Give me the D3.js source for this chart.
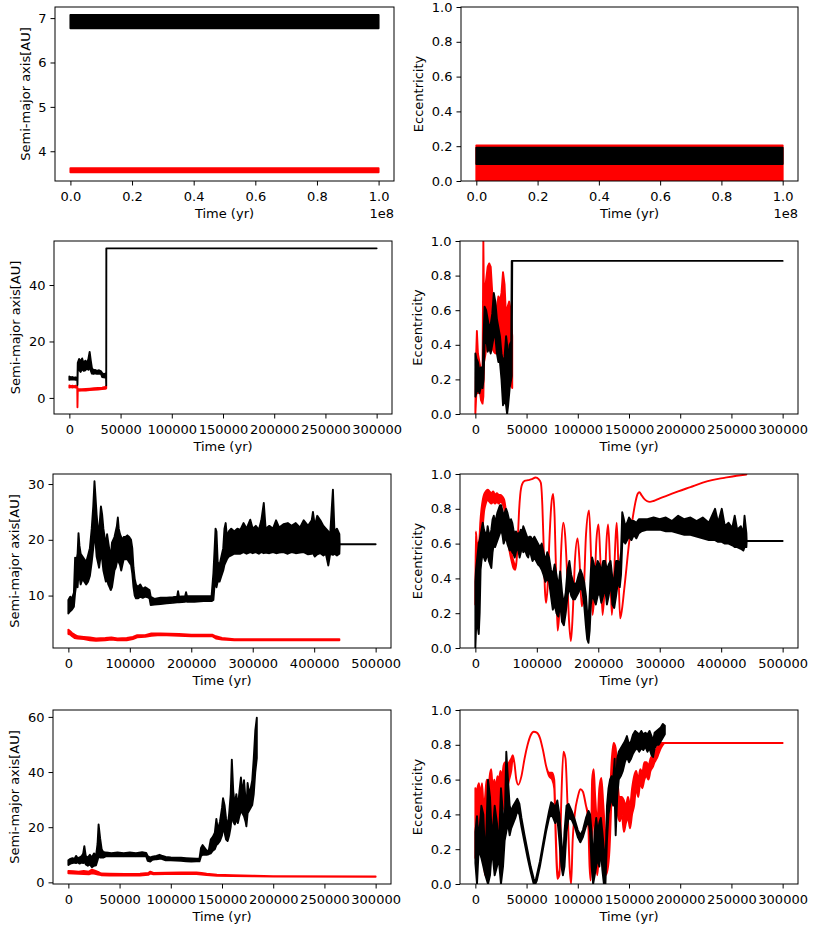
<!DOCTYPE html>
<html>
<head>
<meta charset="utf-8">
<script src="https://cdn.jsdelivr.net/npm/d3@7"></script>
<style>
  body { margin: 0; background: #fff; }
  svg { display: block; font-family: "DejaVu Sans", sans-serif; }
</style>
</head>
<body>
<svg width="822" height="928"></svg>
<script>
// each row: [time (yr), low, high] - envelope of the noisy curve

// run 1 (top row), 1e8 yr
const run1SemiRed   = [[0, 3.525, 3.618], [1e8, 3.525, 3.618]];
const run1SemiBlack = [[0, 6.77, 7.07], [1e8, 6.77, 7.07]];
const run1EccRed    = [[0, 0.0, 0.205], [1e8, 0.0, 0.205]];
const run1EccBlack  = [[0, 0.098, 0.191], [1e8, 0.098, 0.191]];

// run 2
const run2SemiRed = [
  [0, 3.7, 4.4], [1500, 3.8, 4.2], [3000, 3.7, 4.3], [4500, 3.8, 4.2], [6000, 3.7, 4.3],
  [7700, 3.7, 4.1], [7900, -3.3, 3.6], [8200, 2.5, 3.1], [12000, 2.6, 3.1], [16000, 2.6, 3.2],
  [20000, 2.8, 3.3], [24000, 2.9, 3.4], [28000, 3.0, 3.5], [32000, 3.1, 3.6], [35000, 3.2, 3.9],
  [36000, 3.4, 4.3]
];
const run2SemiBlack = [
  [0, 6.4, 7.6], [1500, 6.6, 7.3], [3000, 6.5, 7.4], [4500, 6.6, 7.2], [6000, 6.4, 7.3],
  [7700, 6.5, 7.1], [7900, 4.6, 7.0], [8200, 9.6, 12.4], [9500, 10.0, 13.8], [11000, 9.2, 13.0],
  [12500, 10.3, 14.0], [14000, 9.6, 12.2], [15500, 9.8, 13.2], [17000, 10.4, 12.6], [18500, 10.0, 13.6],
  [19800, 10.8, 16.3], [21000, 9.6, 13.0], [22000, 8.6, 10.6], [23500, 8.5, 9.8], [25000, 8.7, 9.9],
  [27000, 8.5, 9.6], [29000, 8.6, 9.8], [31000, 8.4, 9.4], [32000, 7.4, 8.8], [33500, 7.3, 8.4],
  [35000, 7.2, 8.6], [35800, 7.4, 8.9], [36000, 4.5, 8.0], [36100, 53, 53], [300000, 53, 53]
];
const run2EccRed = [
  [0, 0.0, 0.05], [800, 0.1, 0.35], [1500, 0.2, 0.48], [2500, 0.12, 0.35], [4000, 0.15, 0.3],
  [5500, 0.08, 0.25], [7000, 0.06, 0.22], [7800, 0.1, 1.0], [8500, 0.3, 0.6], [10000, 0.35, 0.75],
  [12000, 0.45, 0.85], [13500, 0.5, 0.87], [15000, 0.45, 0.85], [16500, 0.38, 0.7], [18000, 0.36, 0.6],
  [19500, 0.35, 0.55], [21000, 0.4, 0.62], [22500, 0.45, 0.68], [24000, 0.4, 0.65], [25500, 0.3, 0.7],
  [27000, 0.25, 0.82], [28500, 0.2, 0.75], [30000, 0.1, 0.55], [31500, 0.15, 0.62], [33000, 0.2, 0.65],
  [34500, 0.18, 0.6], [36000, 0.15, 0.45]
];
const run2EccBlack = [
  [0, 0.1, 0.35], [1000, 0.12, 0.32], [2500, 0.15, 0.3], [4000, 0.12, 0.25], [5500, 0.16, 0.27],
  [7000, 0.15, 0.22], [8000, 0.2, 0.45], [9000, 0.4, 0.62], [10500, 0.45, 0.6], [12000, 0.36, 0.55],
  [13500, 0.38, 0.5], [15000, 0.35, 0.52], [16500, 0.4, 0.58], [18000, 0.45, 0.7], [19500, 0.45, 0.65],
  [21000, 0.35, 0.55], [22500, 0.3, 0.5], [24000, 0.3, 0.45], [25500, 0.2, 0.35], [27000, 0.05, 0.3],
  [28500, 0.08, 0.33], [30000, 0.05, 0.45], [31000, 0.0, 0.4], [32000, 0.05, 0.3], [33500, 0.15, 0.4],
  [35000, 0.2, 0.42], [35500, 0.22, 0.885], [36000, 0.885, 0.885], [300000, 0.885, 0.885]
];

// run 3
const run3SemiRed = [
  [0, 3.1, 3.9], [3000, 3.0, 3.6], [6000, 2.7, 3.3], [10000, 2.4, 3.0], [15000, 2.3, 2.7],
  [25000, 2.2, 2.6], [35000, 2.0, 2.5], [45000, 1.9, 2.3], [60000, 2.0, 2.4], [70000, 2.1, 2.5],
  [80000, 2.0, 2.3], [95000, 2.0, 2.4], [105000, 2.2, 2.6], [112000, 2.5, 2.9], [125000, 2.6, 2.9],
  [135000, 2.8, 3.2], [150000, 2.9, 3.2], [180000, 2.8, 3.1], [200000, 2.7, 3.0], [234000, 2.7, 3.0],
  [240000, 2.3, 2.7], [250000, 2.1, 2.4], [270000, 2.0, 2.2], [300000, 2.0, 2.2], [441000, 2.0, 2.2]
];
const run3SemiBlack = [
  [0, 6.8, 9.2], [3000, 7.2, 9.8], [6000, 7.5, 9.5], [9000, 8.0, 10.5], [11000, 10.5, 16.8],
  [13500, 12.5, 16.5], [15000, 11.5, 17.5], [16500, 14.0, 21.2], [18000, 13.5, 19.0], [20000, 12.0, 17.5],
  [23000, 13.0, 17.0], [26000, 12.5, 16.5], [29000, 12.0, 16.0], [32000, 12.5, 17.2], [35000, 13.5, 18.5],
  [38000, 16.0, 22.0], [40500, 18.5, 26.0], [42500, 21.0, 30.5], [44000, 20.0, 28.0], [46000, 17.0, 24.5],
  [48000, 16.0, 22.0], [50000, 15.0, 21.5], [53000, 17.5, 26.0], [55000, 16.5, 24.5], [57000, 14.5, 22.0],
  [59000, 13.5, 20.5], [61000, 12.5, 19.0], [63000, 13.0, 21.0], [65000, 12.0, 19.5], [67000, 11.5, 18.0],
  [69000, 11.0, 17.0], [71000, 11.5, 19.5], [73000, 13.0, 20.0], [75000, 14.5, 20.5], [77000, 15.0, 21.5],
  [79000, 16.0, 22.5], [80500, 16.5, 24.0], [82000, 16.0, 22.0], [84000, 15.5, 21.0], [86000, 14.5, 20.5],
  [88000, 15.5, 20.0], [90000, 16.5, 20.5], [93000, 16.5, 20.5], [96000, 16.5, 20.8], [99000, 16.0, 20.5],
  [102000, 15.5, 20.0], [104000, 14.0, 18.5], [106000, 11.5, 15.0], [108000, 10.0, 13.0], [110000, 9.5, 12.0],
  [113000, 9.5, 11.5], [117000, 9.8, 12.0], [121000, 9.6, 11.2], [125000, 9.8, 11.5], [129000, 9.7, 11.2],
  [132000, 9.5, 11.0], [134000, 8.3, 9.8], [140000, 8.4, 9.4], [150000, 8.5, 9.6], [160000, 8.6, 9.6],
  [170000, 8.7, 9.7], [177000, 8.8, 9.8], [178500, 8.8, 10.8], [180000, 8.8, 9.8], [190000, 8.9, 9.9],
  [191500, 9.0, 10.6], [193000, 8.9, 9.9], [205000, 8.9, 9.9], [220000, 9.0, 9.9], [233000, 9.0, 9.9],
  [236000, 9.2, 14.0], [238000, 12.0, 18.5], [239500, 13.0, 22.0], [241000, 11.5, 21.5], [243000, 12.5, 16.0],
  [246000, 12.5, 15.5], [249000, 13.5, 17.0], [252000, 14.5, 18.5], [254000, 15.5, 22.0], [256000, 16.0, 23.0],
  [258000, 16.5, 20.5], [261000, 17.0, 21.5], [265000, 17.2, 22.0], [270000, 17.5, 21.5], [275000, 17.5, 22.0],
  [280000, 17.5, 21.8], [285000, 17.8, 23.0], [290000, 17.5, 22.0], [296000, 17.8, 23.6], [300000, 17.6, 22.0],
  [305000, 17.8, 22.5], [310000, 17.5, 21.8], [314000, 17.8, 23.5], [318000, 17.6, 26.6], [321000, 17.7, 22.0],
  [327000, 17.6, 22.5], [333000, 17.8, 22.0], [338000, 17.6, 23.5], [343000, 17.7, 22.2], [350000, 17.8, 22.8],
  [357000, 17.5, 23.0], [363000, 17.8, 22.5], [370000, 17.6, 23.0], [377000, 17.7, 22.2], [383000, 17.8, 23.5],
  [390000, 17.4, 22.5], [396000, 17.5, 23.5], [398000, 17.6, 25.0], [401000, 17.0, 22.5], [405000, 17.4, 24.3],
  [410000, 17.6, 23.5], [415000, 17.2, 22.5], [419000, 17.5, 22.0], [423000, 15.4, 21.5], [426000, 17.5, 21.0],
  [430500, 17.3, 29.0], [433000, 17.5, 21.5], [437000, 17.2, 22.0], [441000, 17.5, 21.0], [441500, 19.2, 19.2],
  [500000, 19.2, 19.2]
];
const run3EccRed = [
  [0, 0.25, 0.3], [700, 0.3, 0.67], [2000, 0.35, 0.62], [3500, 0.3, 0.55], [5000, 0.35, 0.6],
  [6500, 0.45, 0.62], [8000, 0.55, 0.72], [10000, 0.65, 0.8], [12000, 0.7, 0.85], [14000, 0.78, 0.88],
  [17000, 0.83, 0.9], [20000, 0.85, 0.91], [23000, 0.84, 0.9], [26000, 0.83, 0.89], [29000, 0.84, 0.9],
  [32000, 0.83, 0.88], [35000, 0.84, 0.89], [38000, 0.83, 0.88], [41000, 0.84, 0.88], [44000, 0.83, 0.87],
  [47000, 0.8, 0.85], [50000, 0.72, 0.78], [53000, 0.62, 0.68], [56000, 0.55, 0.6], [59000, 0.5, 0.54],
  [62000, 0.46, 0.5], [65000, 0.45, 0.47], [67000, 0.5, 0.5], [69000, 0.62, 0.62], [71000, 0.78, 0.78],
  [73000, 0.88, 0.88], [76000, 0.94, 0.94], [80000, 0.96, 0.96], [86000, 0.965, 0.965], [92000, 0.97, 0.97],
  [98000, 0.98, 0.98], [103000, 0.97, 0.97], [106500, 0.95, 0.95], [109000, 0.82, 0.82], [111000, 0.6, 0.6],
  [113000, 0.35, 0.35], [115000, 0.26, 0.26], [117500, 0.35, 0.35], [120500, 0.62, 0.62], [123500, 0.82, 0.82],
  [126500, 0.885, 0.885], [129000, 0.75, 0.75], [131500, 0.4, 0.4], [133800, 0.1, 0.1], [136500, 0.2, 0.2],
  [139500, 0.55, 0.55], [143000, 0.72, 0.72], [146000, 0.65, 0.65], [149000, 0.45, 0.45], [152500, 0.15, 0.15],
  [155500, 0.04, 0.04], [158500, 0.2, 0.2], [162000, 0.5, 0.5], [166300, 0.63, 0.63], [169500, 0.5, 0.5],
  [173000, 0.24, 0.24], [176000, 0.3, 0.3], [180000, 0.65, 0.65], [185000, 0.79, 0.79], [188000, 0.55, 0.55],
  [190700, 0.19, 0.19], [193500, 0.3, 0.3], [197000, 0.62, 0.62], [200400, 0.71, 0.71], [203500, 0.5, 0.5],
  [207000, 0.19, 0.19], [210500, 0.35, 0.35], [213500, 0.62, 0.62], [216000, 0.71, 0.71], [219000, 0.5, 0.5],
  [222000, 0.19, 0.19], [225000, 0.35, 0.35], [228000, 0.62, 0.62], [230000, 0.72, 0.72], [232500, 0.5, 0.5],
  [235500, 0.17, 0.17], [238500, 0.22, 0.22], [242000, 0.33, 0.33], [245000, 0.43, 0.43], [250000, 0.6, 0.6],
  [255700, 0.74, 0.74], [260000, 0.83, 0.83], [264000, 0.885, 0.885], [267000, 0.895, 0.895], [270000, 0.88, 0.88],
  [274000, 0.86, 0.86], [279000, 0.845, 0.845], [284000, 0.84, 0.84], [290000, 0.845, 0.845], [300000, 0.86, 0.86],
  [315000, 0.88, 0.88], [330000, 0.9, 0.9], [350000, 0.925, 0.925], [370000, 0.95, 0.95], [385000, 0.965, 0.965],
  [405000, 0.978, 0.978], [425000, 0.99, 0.99], [441000, 0.997, 0.997]
];
const run3EccBlack = [
  [0, 0.0, 0.38], [1000, 0.1, 0.45], [2500, 0.15, 0.5], [4000, 0.12, 0.55], [5500, 0.08, 0.6],
  [7000, 0.2, 0.62], [8500, 0.45, 0.65], [10000, 0.5, 0.68], [12000, 0.55, 0.72], [14000, 0.52, 0.68],
  [16000, 0.5, 0.66], [18000, 0.52, 0.64], [20000, 0.55, 0.7], [22000, 0.5, 0.66], [24000, 0.48, 0.64],
  [26000, 0.46, 0.68], [28000, 0.55, 0.74], [30000, 0.6, 0.76], [32000, 0.58, 0.72], [34000, 0.6, 0.75],
  [36000, 0.62, 0.78], [38000, 0.64, 0.8], [40000, 0.66, 0.82], [42000, 0.68, 0.82], [44000, 0.65, 0.79],
  [46000, 0.6, 0.76], [48000, 0.62, 0.78], [50000, 0.64, 0.8], [52000, 0.6, 0.78], [54000, 0.58, 0.75],
  [56000, 0.56, 0.72], [58000, 0.58, 0.74], [60000, 0.55, 0.72], [62000, 0.54, 0.68], [64000, 0.52, 0.65],
  [66000, 0.55, 0.67], [68000, 0.58, 0.65], [70000, 0.56, 0.66], [72000, 0.52, 0.66], [74000, 0.55, 0.68],
  [76000, 0.58, 0.66], [78000, 0.55, 0.7], [80000, 0.56, 0.68], [82000, 0.55, 0.66], [84000, 0.53, 0.64],
  [86000, 0.52, 0.63], [88000, 0.56, 0.64], [90000, 0.54, 0.64], [93000, 0.5, 0.62], [96000, 0.52, 0.64],
  [99000, 0.5, 0.62], [102000, 0.48, 0.6], [105000, 0.47, 0.58], [108000, 0.45, 0.6], [111000, 0.42, 0.55],
  [114000, 0.38, 0.5], [117000, 0.4, 0.55], [120000, 0.38, 0.52], [123000, 0.3, 0.45], [126000, 0.22, 0.42],
  [129000, 0.25, 0.48], [132000, 0.2, 0.42], [135000, 0.18, 0.35], [138000, 0.25, 0.44], [141000, 0.15, 0.32],
  [144000, 0.13, 0.25], [147000, 0.2, 0.32], [150000, 0.3, 0.45], [153000, 0.35, 0.5], [156000, 0.3, 0.42],
  [159000, 0.28, 0.38], [162000, 0.28, 0.36], [165000, 0.3, 0.38], [168000, 0.32, 0.42], [171000, 0.35, 0.45],
  [174000, 0.33, 0.42], [177000, 0.25, 0.38], [180000, 0.12, 0.3], [182000, 0.05, 0.2], [184000, 0.03, 0.15],
  [186000, 0.1, 0.3], [188000, 0.25, 0.45], [190000, 0.3, 0.52], [193000, 0.28, 0.48], [196000, 0.25, 0.45],
  [199000, 0.3, 0.5], [202000, 0.32, 0.48], [205000, 0.26, 0.44], [208000, 0.3, 0.5], [211000, 0.35, 0.5],
  [214000, 0.25, 0.45], [217000, 0.3, 0.48], [220000, 0.38, 0.5], [223000, 0.25, 0.4], [226000, 0.23, 0.4],
  [229000, 0.3, 0.5], [232000, 0.38, 0.5], [235000, 0.35, 0.48], [237000, 0.42, 0.55], [239000, 0.6, 0.78],
  [241000, 0.62, 0.75], [244000, 0.6, 0.7], [247000, 0.62, 0.72], [250000, 0.64, 0.75], [254000, 0.62, 0.73],
  [258000, 0.65, 0.73], [262000, 0.63, 0.72], [266000, 0.66, 0.74], [270000, 0.67, 0.74], [280000, 0.68, 0.74],
  [290000, 0.68, 0.75], [300000, 0.68, 0.74], [310000, 0.67, 0.75], [320000, 0.67, 0.73], [330000, 0.66, 0.76],
  [340000, 0.65, 0.74], [350000, 0.65, 0.75], [360000, 0.64, 0.73], [370000, 0.63, 0.75], [380000, 0.62, 0.72],
  [390000, 0.62, 0.8], [395000, 0.61, 0.72], [401000, 0.61, 0.8], [406000, 0.6, 0.7], [412000, 0.6, 0.72],
  [418000, 0.59, 0.69], [422000, 0.58, 0.76], [426000, 0.58, 0.68], [432000, 0.57, 0.7], [436000, 0.56, 0.66],
  [438000, 0.58, 0.76], [441000, 0.58, 0.66], [441500, 0.615, 0.615], [500000, 0.615, 0.615]
];

// run 4 (bottom row)
const run4SemiRed = [
  [0, 3.3, 4.1], [5000, 3.2, 4.0], [10000, 3.1, 3.9], [15000, 3.0, 4.1], [20000, 2.9, 3.9],
  [23000, 3.3, 4.6], [26000, 3.1, 4.2], [29000, 2.8, 3.8], [32000, 2.6, 3.2], [40000, 2.5, 3.1],
  [55000, 2.5, 3.0], [70000, 2.5, 3.1], [78000, 2.7, 3.4], [80000, 3.2, 3.9], [83000, 2.9, 3.4],
  [95000, 3.0, 3.5], [110000, 3.0, 3.6], [125000, 3.0, 3.6], [130000, 2.8, 3.4], [135000, 2.6, 3.1],
  [145000, 2.4, 2.8], [160000, 2.3, 2.6], [180000, 2.2, 2.4], [200000, 2.1, 2.25], [300000, 2.05, 2.15]
];
const run4SemiBlack = [
  [0, 6.3, 8.0], [2000, 6.8, 8.5], [4000, 7.0, 8.8], [6000, 7.2, 8.5], [7500, 7.0, 9.6],
  [9000, 7.3, 8.8], [11000, 6.8, 9.0], [13000, 7.2, 9.5], [14500, 7.0, 10.5], [15600, 7.5, 13.1],
  [17000, 6.5, 9.5], [19000, 6.0, 9.0], [21000, 6.5, 10.0], [23000, 5.5, 9.0], [25000, 6.0, 10.5],
  [27000, 6.2, 9.5], [28500, 8.0, 14.0], [29500, 9.5, 21.0], [31000, 9.0, 16.0], [32500, 9.0, 12.0],
  [34000, 9.0, 11.0], [37000, 9.5, 10.8], [42000, 9.4, 10.6], [48000, 9.5, 10.8], [54000, 9.4, 10.6],
  [60000, 9.5, 10.8], [66000, 9.4, 10.6], [72000, 9.5, 10.9], [76000, 9.4, 10.7], [77500, 7.8, 9.5],
  [80000, 7.5, 9.0], [82000, 8.2, 9.3], [86000, 8.4, 9.6], [89000, 8.5, 10.0], [91000, 8.5, 9.7],
  [95000, 8.0, 9.2], [100000, 8.0, 9.0], [105000, 7.9, 8.9], [110000, 7.8, 8.9], [115000, 7.6, 8.8],
  [120000, 7.5, 8.7], [125000, 7.6, 8.6], [128000, 7.6, 8.6], [129500, 9.5, 12.5], [131000, 10.0, 13.5],
  [133000, 10.0, 12.5], [135000, 10.0, 11.5], [137000, 10.2, 11.5], [139000, 10.5, 15.5], [141000, 11.5, 16.5],
  [143000, 12.0, 18.0], [144500, 13.5, 23.0], [146000, 14.0, 19.0], [148000, 15.0, 22.0], [150000, 17.0, 27.0],
  [151000, 20.0, 30.5], [152500, 18.0, 28.0], [154000, 15.5, 23.0], [155500, 15.0, 20.0], [157000, 17.0, 25.0],
  [158500, 20.0, 32.0], [159600, 25.0, 44.5], [161000, 22.0, 33.0], [162500, 21.0, 28.0], [164000, 23.0, 32.0],
  [165500, 21.5, 27.0], [167000, 24.0, 33.0], [168500, 26.0, 38.0], [170000, 25.0, 32.0], [171500, 24.0, 37.0],
  [173000, 22.0, 30.0], [173800, 20.3, 26.0], [175000, 25.0, 36.0], [176500, 26.0, 32.0], [178000, 27.0, 34.0],
  [179500, 28.0, 37.0], [181000, 32.0, 45.0], [182500, 40.0, 55.0], [184000, 45.0, 59.7]
];
const run4EccRed = [
  [0, 0.15, 0.55], [1000, 0.3, 0.52], [2000, 0.2, 0.55], [3500, 0.35, 0.58], [5000, 0.2, 0.5],
  [6500, 0.3, 0.58], [8000, 0.15, 0.45], [9500, 0.05, 0.5], [11000, 0.2, 0.6], [12500, 0.1, 0.5],
  [14000, 0.3, 0.62], [15500, 0.25, 0.66], [17000, 0.2, 0.55], [18500, 0.3, 0.6], [20000, 0.25, 0.55],
  [21500, 0.35, 0.62], [23000, 0.2, 0.6], [24500, 0.3, 0.65], [26000, 0.4, 0.62], [27500, 0.45, 0.68],
  [29000, 0.52, 0.7], [31000, 0.55, 0.68], [33000, 0.6, 0.7], [35000, 0.65, 0.72], [36500, 0.72, 0.74],
  [38000, 0.7, 0.7], [40000, 0.6, 0.6], [42000, 0.57, 0.57], [45000, 0.62, 0.62], [48000, 0.72, 0.72],
  [51000, 0.8, 0.8], [54000, 0.855, 0.855], [57000, 0.875, 0.875], [60000, 0.87, 0.87], [63000, 0.84, 0.84],
  [66000, 0.77, 0.77], [69000, 0.68, 0.68], [72000, 0.62, 0.64], [75000, 0.6, 0.64], [77000, 0.55, 0.6],
  [78500, 0.25, 0.3], [80000, 0.03, 0.08], [82000, 0.05, 0.05], [84000, 0.5, 0.5], [86000, 0.76, 0.76],
  [88000, 0.72, 0.72], [90000, 0.45, 0.45], [92000, 0.1, 0.1], [93500, 0.0, 0.0], [95000, 0.25, 0.25],
  [97000, 0.4, 0.4], [100000, 0.5, 0.5], [102500, 0.545, 0.545], [105000, 0.53, 0.53], [108000, 0.45, 0.45],
  [110000, 0.38, 0.4], [111500, 0.1, 0.3], [112500, 0.02, 0.1], [114000, 0.3, 0.6], [115500, 0.4, 0.66],
  [117000, 0.2, 0.5], [119000, 0.05, 0.35], [121000, 0.2, 0.55], [123000, 0.35, 0.61], [125000, 0.15, 0.45],
  [127000, 0.05, 0.3], [129000, 0.08, 0.3], [131000, 0.2, 0.45], [133000, 0.5, 0.7], [135000, 0.7, 0.81],
  [137000, 0.6, 0.78], [139000, 0.4, 0.58], [141000, 0.36, 0.5], [143000, 0.4, 0.5], [145000, 0.3, 0.48],
  [147000, 0.35, 0.45], [149000, 0.38, 0.5], [151000, 0.32, 0.45], [153000, 0.4, 0.55], [155000, 0.45, 0.62],
  [157000, 0.55, 0.65], [159000, 0.5, 0.6], [161000, 0.58, 0.66], [163000, 0.55, 0.64], [165000, 0.6, 0.7],
  [167000, 0.62, 0.7], [169000, 0.6, 0.68], [171000, 0.65, 0.72], [173000, 0.67, 0.74], [175000, 0.7, 0.76],
  [177000, 0.72, 0.78], [179000, 0.75, 0.8], [181000, 0.78, 0.81], [183000, 0.8, 0.81], [185000, 0.81, 0.81],
  [300000, 0.81, 0.81]
];
const run4EccBlack = [
  [0, 0.12, 0.3], [1600, 0.0, 0.39], [3250, 0.2, 0.25], [5850, 0.15, 0.45], [7800, 0.1, 0.4],
  [9750, 0.05, 0.12], [12350, 0.0, 0.6], [14300, 0.05, 0.5], [16250, 0.2, 0.25], [18850, 0.05, 0.45],
  [21100, 0.1, 0.35], [22750, 0.15, 0.2], [25000, 0.0, 0.55], [27000, 0.1, 0.4], [28600, 0.25, 0.35],
  [30200, 0.3, 0.76], [31850, 0.35, 0.6], [33500, 0.28, 0.45], [35000, 0.32, 0.42],
  [37000, 0.35, 0.45], [39000, 0.38, 0.47], [41000, 0.42, 0.49], [43000, 0.4, 0.46], [45000, 0.33, 0.38],
  [48000, 0.24, 0.28], [51000, 0.15, 0.19], [54000, 0.07, 0.1], [57000, 0.0, 0.03], [58500, 0.0, 0.01],
  [60000, 0.02, 0.05], [63000, 0.1, 0.13], [66000, 0.2, 0.23], [69000, 0.3, 0.33], [72000, 0.38, 0.42],
  [74000, 0.4, 0.47], [76000, 0.38, 0.46], [78000, 0.35, 0.44], [80000, 0.38, 0.48], [82000, 0.25, 0.4],
  [84000, 0.1, 0.25], [85500, 0.05, 0.12], [87000, 0.1, 0.3], [89000, 0.3, 0.45], [91000, 0.38, 0.46],
  [94000, 0.37, 0.42], [97000, 0.33, 0.37], [100000, 0.27, 0.31], [102500, 0.24, 0.28], [105000, 0.27, 0.31],
  [108000, 0.33, 0.38], [110500, 0.36, 0.42], [112000, 0.3, 0.4], [113500, 0.1, 0.3], [115000, 0.0, 0.12],
  [116500, 0.05, 0.3], [118000, 0.1, 0.38], [119500, 0.15, 0.3], [121000, 0.1, 0.35], [122500, 0.2, 0.38],
  [124000, 0.08, 0.3], [125500, 0.0, 0.2], [127000, 0.0, 0.1], [128500, 0.25, 0.45], [130000, 0.4, 0.55],
  [131500, 0.45, 0.6], [133000, 0.5, 0.62], [134500, 0.45, 0.6], [136000, 0.5, 0.72], [137000, 0.28, 0.5],
  [138500, 0.5, 0.72], [140000, 0.6, 0.76], [142000, 0.62, 0.78], [144000, 0.65, 0.8], [146000, 0.7, 0.82],
  [148000, 0.73, 0.85], [150000, 0.7, 0.8], [152000, 0.72, 0.82], [154000, 0.75, 0.86], [156000, 0.77, 0.88],
  [158000, 0.78, 0.87], [160000, 0.76, 0.86], [162000, 0.78, 0.88], [164000, 0.77, 0.86], [166000, 0.79, 0.87],
  [168000, 0.76, 0.86], [170000, 0.78, 0.88], [172000, 0.74, 0.85], [173500, 0.73, 0.82], [175000, 0.78, 0.87],
  [177000, 0.8, 0.88], [179000, 0.8, 0.89], [181000, 0.82, 0.9], [183000, 0.84, 0.92], [185000, 0.86, 0.91]
];

// ticks and labels
const timeTicks1e8 = [0, 2e7, 4e7, 6e7, 8e7, 1e8];
const timeTicks300k = [0, 50000, 100000, 150000, 200000, 250000, 300000];
const timeTicks500k = [0, 100000, 200000, 300000, 400000, 500000];
const semiTicksRun1 = [4, 5, 6, 7];
const semiTicksRun2 = [0, 20, 40];
const semiTicksRun3 = [10, 20, 30];
const semiTicksRun4 = [0, 20, 40, 60];
const eccTicks = [0, 0.2, 0.4, 0.6, 0.8, 1.0];
const semiLabel = "Semi-major axis[AU]";
const eccLabel = "Eccentricity";
const timeLabel = "Time (yr)";

const fmtInt = d3.format("d");
const fmtOne = d3.format(".1f");
const fmt1e8 = d => fmtOne(d / 1e8);

const panels = [
  {box: [55, 7, 339, 174], xDomain: [-0.05e8, 1.05e8], yDomain: [3.33, 7.25], xTicks: timeTicks1e8, xFormat: fmt1e8, offset: "1e8",
   yTicks: semiTicksRun1, yFormat: fmtInt, ylabel: semiLabel, series: [run1SemiRed, run1SemiBlack]},
  {box: [461, 7, 337, 174], xDomain: [-0.05e8, 1.05e8], yDomain: [0, 1], xTicks: timeTicks1e8, xFormat: fmt1e8, offset: "1e8",
   yTicks: eccTicks, yFormat: fmtOne, ylabel: eccLabel, series: [run1EccRed, run1EccBlack]},
  {box: [54, 241, 338, 173], xDomain: [-15000, 315000], yDomain: [-5.7, 55.6], xTicks: timeTicks300k, xFormat: fmtInt,
   yTicks: semiTicksRun2, yFormat: fmtInt, ylabel: semiLabel, series: [run2SemiRed, run2SemiBlack]},
  {box: [460, 241, 338, 173], xDomain: [-15000, 315000], yDomain: [0, 1], xTicks: timeTicks300k, xFormat: fmtInt,
   yTicks: eccTicks, yFormat: fmtOne, ylabel: eccLabel, series: [run2EccRed, run2EccBlack]},
  {box: [53, 474, 338, 174], xDomain: [-25000, 525000], yDomain: [0.6, 31.8], xTicks: timeTicks500k, xFormat: fmtInt,
   yTicks: semiTicksRun3, yFormat: fmtInt, ylabel: semiLabel, series: [run3SemiRed, run3SemiBlack]},
  {box: [460, 474, 338, 174], xDomain: [-25000, 525000], yDomain: [0, 1], xTicks: timeTicks500k, xFormat: fmtInt,
   yTicks: eccTicks, yFormat: fmtOne, ylabel: eccLabel, series: [run3EccRed, run3EccBlack], smoothRed: true},
  {box: [53, 710, 338, 174], xDomain: [-15000, 315000], yDomain: [-0.6, 62.5], xTicks: timeTicks300k, xFormat: fmtInt,
   yTicks: semiTicksRun4, yFormat: fmtInt, ylabel: semiLabel, series: [run4SemiRed, run4SemiBlack]},
  {box: [460, 710, 338, 174], xDomain: [-15000, 315000], yDomain: [0, 1], xTicks: timeTicks300k, xFormat: fmtInt,
   yTicks: eccTicks, yFormat: fmtOne, ylabel: eccLabel, series: [run4EccRed, run4EccBlack], smoothRed: true}
];
const colors = ["#ff0000", "#000000"];

const svg = d3.select("svg");

panels.forEach((p, i) => {
  const [left, top, w, h] = p.box;
  const x = d3.scaleLinear().domain(p.xDomain).range([0, w]);
  const y = d3.scaleLinear().domain(p.yDomain).range([h, 0]);

  const g = svg.append("g").attr("transform", `translate(${left},${top})`);

  g.append("clipPath").attr("id", "clip" + i)
    .append("rect").attr("width", w).attr("height", h);

  const plot = g.append("g").attr("clip-path", `url(#clip${i})`);

  p.series.forEach((data, k) => {
    const curve = (k === 0 && p.smoothRed) ? d3.curveMonotoneX : d3.curveLinear;
    const area = d3.area()
      .x(d => x(d[0]))
      .y0(d => y(d[1]))
      .y1(d => y(d[2]))
      .curve(curve);
    plot.append("path")
      .datum(data)
      .attr("d", area)
      .attr("fill", colors[k])
      .attr("stroke", colors[k])
      .attr("stroke-width", 1.9)
      .attr("stroke-linejoin", "round");
  });

  const xAxis = g.append("g")
    .attr("transform", `translate(0,${h})`)
    .call(d3.axisBottom(x).tickValues(p.xTicks).tickFormat(p.xFormat).tickSize(4.5).tickPadding(6.5));
  const yAxis = g.append("g")
    .call(d3.axisLeft(y).tickValues(p.yTicks).tickFormat(p.yFormat).tickSize(4.5).tickPadding(4));

  [xAxis, yAxis].forEach(a => {
    a.select(".domain").remove();
    a.attr("font-family", "DejaVu Sans").attr("font-size", 13);
    a.selectAll("text").attr("fill", "#000");
  });

  g.append("rect")
    .attr("width", w).attr("height", h)
    .attr("fill", "none").attr("stroke", "#000").attr("stroke-width", 1);

  g.append("text")
    .attr("x", w / 2).attr("y", h + 37)
    .attr("text-anchor", "middle")
    .attr("font-size", 13)
    .text(timeLabel);

  if (p.offset) {
    g.append("text")
      .attr("x", w).attr("y", h + 37)
      .attr("text-anchor", "end")
      .attr("font-size", 13)
      .text(p.offset);
  }

  const tb = yAxis.node().getBBox();
  g.append("text")
    .attr("transform", `translate(${tb.x - 8.5},${h / 2}) rotate(-90)`)
    .attr("text-anchor", "middle")
    .attr("font-size", 13)
    .text(p.ylabel);
});
</script>
</body>
</html>
